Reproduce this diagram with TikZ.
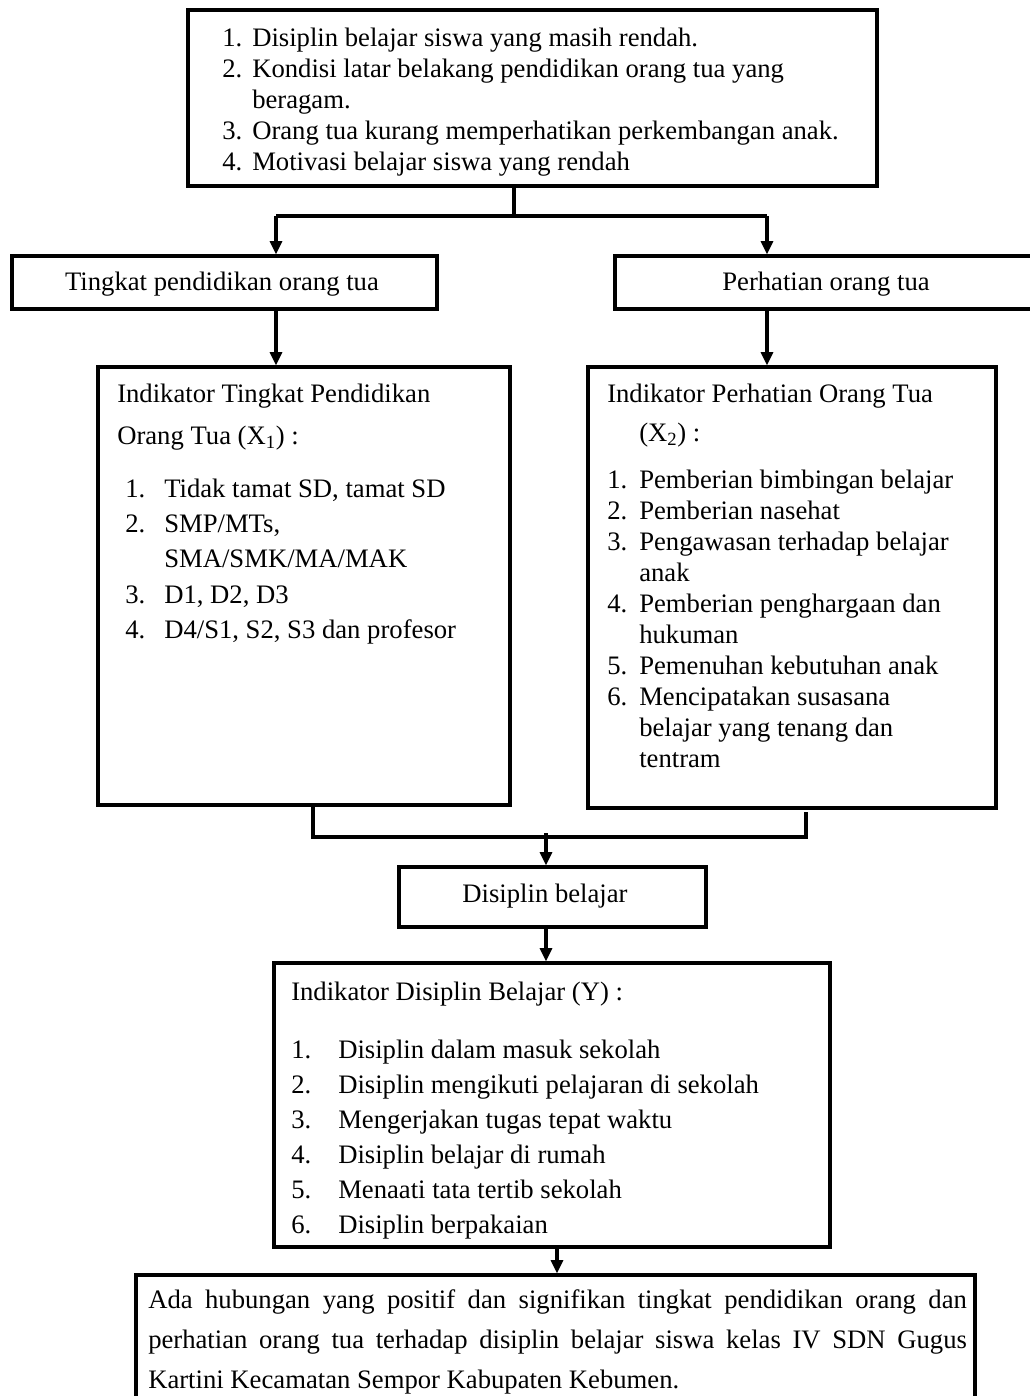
\documentclass[tikz,border=0pt]{standalone}
\usepackage{fontspec}
\setmainfont{Liberation Serif}
\usetikzlibrary{arrows.meta,fit}
\begin{document}
\begin{tikzpicture}[x=0.75pt,y=-0.75pt,
  box/.style={draw, line width=2.3pt, inner sep=0pt},
  conn/.style={line width=2.3pt},
  arr/.style={line width=2.3pt,-{Triangle[length=10pt,width=9pt]}},
  txt/.style={inner sep=0pt, anchor=base west, align=left},
  ctxt/.style={inner sep=0pt, anchor=base, font=\fontsize{20pt}{23.25pt}\selectfont}
]
\useasboundingbox (0,0) rectangle (1030,1396);

% boxes
\node[box, fit={(188,10)(877,186)}] (top) {};
\node[box, fit={(12,256)(437,309)}] (tp) {};
\node[box, fit={(615,256)(1037,309)}] (ph) {};
\node[box, fit={(98,367)(510,805)}] (indL) {};
\node[box, fit={(588,367)(996,808)}] (indR) {};
\node[box, fit={(399,867)(706,927)}] (db) {};
\node[box, fit={(274,963)(830,1247)}] (indY) {};
\node[box, fit={(136,1275)(975,1430)}] (concl) {};

% texts
\node[txt, font=\fontsize{20pt}{23.25pt}\selectfont] (ttop) at (222,46) {\begin{tabular}[t]{@{}p{22.5pt}@{}l@{}}
1. & Disiplin belajar siswa yang masih rendah.\\
2. & Kondisi latar belakang pendidikan orang tua yang\\
   & beragam.\\
3. & Orang tua kurang memperhatikan perkembangan anak.\\
4. & Motivasi belajar siswa yang rendah
\end{tabular}};

\node[ctxt] (ttp) at (222,290) {Tingkat pendidikan orang tua};
\node[ctxt] (tph) at (826,290) {Perhatian orang tua};

\node[txt, font=\fontsize{20pt}{31.5pt}\selectfont] (tLh) at (117,402) {\begin{tabular}[t]{@{}l@{}}
Indikator Tingkat Pendidikan\\
Orang Tua (X\textsubscript{1}) :
\end{tabular}};
\node[txt, font=\fontsize{20pt}{26.6pt}\selectfont] (tLl) at (125,497) {\begin{tabular}[t]{@{}p{29.25pt}@{}l@{}}
1. & Tidak tamat SD, tamat SD\\
2. & SMP/MTs,\\
   & SMA/SMK/MA/MAK\\
3. & D1, D2, D3\\
4. & D4/S1, S2, S3 dan profesor
\end{tabular}};

\node[txt, font=\fontsize{20pt}{29.25pt}\selectfont] (tRh) at (607,402) {\begin{tabular}[t]{@{}l@{}}
Indikator Perhatian Orang Tua\\
\hspace{24pt}(X\textsubscript{2}) :
\end{tabular}};
\node[txt, font=\fontsize{20pt}{23.25pt}\selectfont] (tRl) at (607,488) {\begin{tabular}[t]{@{}p{24pt}@{}l@{}}
1. & Pemberian bimbingan belajar\\
2. & Pemberian nasehat\\
3. & Pengawasan terhadap belajar\\
   & anak\\
4. & Pemberian penghargaan dan\\
   & hukuman\\
5. & Pemenuhan kebutuhan anak\\
6. & Mencipatakan susasana\\
   & belajar yang tenang dan\\
   & tentram
\end{tabular}};

\node[ctxt] (tdb) at (545,902) {Disiplin belajar};

\node[txt, font=\fontsize{20pt}{23.25pt}\selectfont] (tYh) at (291,1000) {Indikator Disiplin Belajar (Y) :};
\node[txt, font=\fontsize{20pt}{26.25pt}\selectfont] (tYl) at (291,1058) {\begin{tabular}[t]{@{}p{35.25pt}@{}l@{}}
1. & Disiplin dalam masuk sekolah\\
2. & Disiplin mengikuti pelajaran di sekolah\\
3. & Mengerjakan tugas tepat waktu\\
4. & Disiplin belajar di rumah\\
5. & Menaati tata tertib sekolah\\
6. & Disiplin berpakaian
\end{tabular}};

\node[txt, font=\fontsize{20pt}{30pt}\selectfont] (tc) at (148,1308) {\begin{tabular}[t]{@{}l@{}}
\makebox[614pt][s]{Ada hubungan yang positif dan signifikan tingkat pendidikan orang dan}\\
\makebox[614pt][s]{perhatian orang tua terhadap disiplin belajar siswa kelas IV SDN Gugus}\\
Kartini Kecamatan Sempor Kabupaten Kebumen.
\end{tabular}};

% connectors
\coordinate (j) at (514,216);
\coordinate (aL) at (276,216);
\coordinate (aR) at (767,216);
\draw[conn] (top.south -| j) -- (j);
\draw[conn] (aL) -- (aR);
\draw[arr] (aL) -- (aL |- tp.north);
\draw[arr] (aR) -- (aR |- ph.north);
\draw[arr] (tp.south -| aL) -- (indL.north -| aL);
\draw[arr] (ph.south -| aR) -- (indR.north -| aR);

\coordinate (bl) at (313,837);
\coordinate (br) at (806,837);
\coordinate (brt) at (806,812);
\draw[conn] (indL.south -| bl) -- (bl) -- (br) -- (brt);
\coordinate (dj) at (546,833);
\draw[arr] (dj) -- (db.north -| dj);
\draw[arr] (db.south -| dj) -- (indY.north -| dj);
\coordinate (yj) at (557,1247);
\draw[arr] (indY.south -| yj) -- (concl.north -| yj);
\end{tikzpicture}
\end{document}
